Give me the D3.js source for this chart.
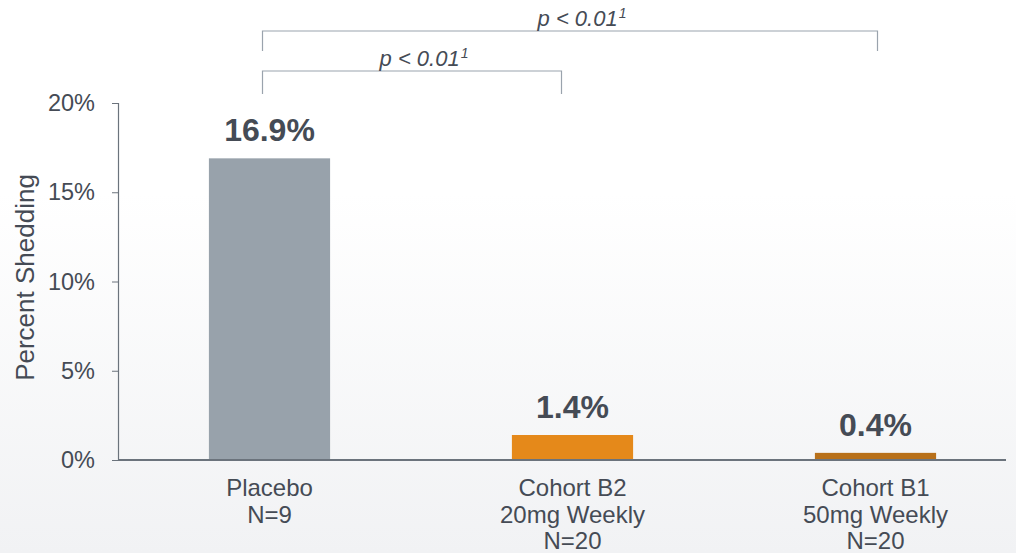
<!DOCTYPE html>
<html lang="en">
<head>
  <meta charset="UTF-8">
  <title>Percent Shedding</title>
  <style>
    body, html {
      margin: 0;
      padding: 0;
    }
    #svg {
      display: block;
      font-family: "Liberation Sans", Arial, sans-serif;
    }
  </style>
</head>
<body>
  <svg id="svg" width="1016" height="553"></svg>
  <script src="https://d3js.org/d3.v7.min.js"></script>
  <script>
    // data
    const categories = ['Placebo', 'Cohort B2', 'Cohort B1']
    const categoryLines = [
      ['Placebo', 'N=9'],
      ['Cohort B2', '20mg Weekly', 'N=20'],
      ['Cohort B1', '50mg Weekly', 'N=20']
    ]
    const values = [16.9, 1.4, 0.4]
    const barColors = ['#98a2ab', '#e5891a', '#b8701a']
    const yTicks = [0, 5, 10, 15, 20]
    // significance brackets: from category, to category, label
    const brackets = [
      { from: 'Placebo', to: 'Cohort B1', label: 'p < 0.01', sup: '1', level: 0 },
      { from: 'Placebo', to: 'Cohort B2', label: 'p < 0.01', sup: '1', level: 1 }
    ]

    function drawChart() {
      const width = 1016
      const height = 553
      const plotLeft = 118
      const plotBottom = 460
      const plotTop = 103
      const fontFamily = '"Liberation Sans", Arial, sans-serif'

      const svg = d3.select('#svg')

      // background gradient
      const defs = svg.append('defs')
      const grad = defs.append('linearGradient')
        .attr('id', 'bg')
        .attr('x1', 0).attr('y1', 0).attr('x2', 0).attr('y2', 1)
      grad.append('stop').attr('offset', '0%').attr('stop-color', '#ffffff')
      grad.append('stop').attr('offset', '35%').attr('stop-color', '#ffffff')
      grad.append('stop').attr('offset', '100%').attr('stop-color', '#f1f2f4')
      svg.append('rect')
        .attr('width', width)
        .attr('height', height)
        .attr('fill', 'url(#bg)')

      const x = d3.scaleBand()
        .domain(categories)
        .range([plotLeft, plotLeft + 3 * 303])
        .paddingInner(0.6)
        .paddingOuter(0.3)

      const y = d3.scaleLinear()
        .domain([0, 20])
        .range([plotBottom, plotTop])

      const textColor = '#454b55'
      const axisColor = '#6b737c'

      // y axis
      const yAxis = svg.append('g')
        .attr('transform', `translate(${plotLeft},0)`)
        .call(d3.axisLeft(y).tickValues(yTicks).tickFormat(d => d + '%').tickSize(6).tickPadding(8))
      yAxis.select('.domain').attr('stroke', axisColor).attr('stroke-width', 1.2)
      yAxis.selectAll('.tick line').attr('stroke', axisColor)
      yAxis.selectAll('.tick text')
        .attr('fill', textColor)
        .attr('font-size', 23.5)
        .attr('font-family', fontFamily)
        .attr('dx', -9)

      // y axis title
      svg.append('text')
        .attr('transform', `translate(34, ${(plotTop + plotBottom) / 2 - 4}) rotate(-90)`)
        .attr('text-anchor', 'middle')
        .attr('fill', textColor)
        .attr('font-size', 26)
        .text('Percent Shedding')

      // bars
      svg.append('g')
        .selectAll('rect')
        .data(values)
        .enter()
        .append('rect')
        .attr('x', (d, i) => x(categories[i]))
        .attr('y', d => y(d))
        .attr('width', x.bandwidth())
        .attr('height', d => plotBottom - y(d))
        .attr('fill', (d, i) => barColors[i])

      // x axis line
      svg.append('line')
        .attr('x1', plotLeft)
        .attr('x2', 1006)
        .attr('y1', plotBottom)
        .attr('y2', plotBottom)
        .attr('stroke', axisColor)
        .attr('stroke-width', 2)

      // value labels
      svg.append('g')
        .selectAll('text')
        .data(values)
        .enter()
        .append('text')
        .attr('x', (d, i) => x(categories[i]) + x.bandwidth() / 2)
        .attr('y', d => y(d) - 17)
        .attr('text-anchor', 'middle')
        .attr('font-size', 32)
        .attr('font-weight', 'bold')
        .attr('fill', textColor)
        .text(d => d.toFixed(1) + '%')

      // category labels
      const catLabels = svg.append('g')
        .selectAll('text')
        .data(categoryLines)
        .enter()
        .append('text')
        .attr('text-anchor', 'middle')
        .attr('font-size', 24)
        .attr('fill', textColor)
      catLabels.selectAll('tspan')
        .data((d, i) => d.map(t => ({ t, c: categories[i] })))
        .enter()
        .append('tspan')
        .attr('x', d => x(d.c) + x.bandwidth() / 2)
        .attr('y', (d, j) => 496 + j * 26.5)
        .text(d => d.t)

      // significance brackets
      const levelY = [31, 71]
      const levelDrop = [20, 23]
      const bg = svg.append('g')
      brackets.forEach(b => {
        const x1 = x(b.from) + x.bandwidth() / 2 - 7
        const x2 = x(b.to) + x.bandwidth() / 2 + (b.to === 'Cohort B2' ? -11 : 2)
        const by = levelY[b.level]
        const drop = levelDrop[b.level]
        bg.append('path')
          .attr('d', `M${x1},${by + drop}V${by}H${x2}V${by + drop}`)
          .attr('fill', 'none')
          .attr('stroke', '#9aa3ad')
          .attr('stroke-width', 1.2)
        const t = bg.append('text')
          .attr('x', (x1 + x2) / 2 + 12)
          .attr('y', by - 5)
          .attr('text-anchor', 'middle')
          .attr('font-size', 22)
          .attr('font-style', 'italic')
          .attr('fill', textColor)
        t.append('tspan').text(b.label)
        t.append('tspan').attr('font-size', 14).attr('dy', -8).attr('dx', 1).text(b.sup)
      })
    }

    drawChart()
  </script>
</body>
</html>
